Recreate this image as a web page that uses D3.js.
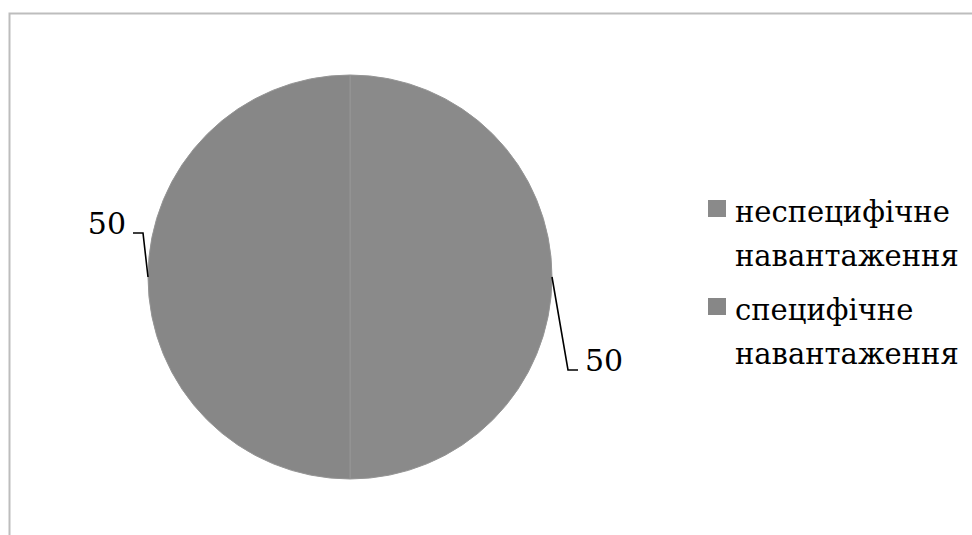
<!DOCTYPE html>
<html>
<head>
<meta charset="utf-8">
<script src="https://cdn.jsdelivr.net/npm/d3@7"></script>
<style>
  body { margin: 0; background: #fff; }
</style>
</head>
<body>
<div id="chart"></div>
<script>
// pie data
var categories = ["неспецифічне навантаження", "специфічне навантаження"];
var values = [50, 50];
var legendLines = [["неспецифічне", "навантаження"], ["специфічне", "навантаження"]];
var sliceColors = ["#8a8a8a", "#878787"];

var width = 972, height = 535;
var cx = 350, cy = 277, radius = 202;
var fontFamily = "'DejaVu Serif', serif";

var svg = d3.select("#chart")
    .append("svg")
    .attr("width", width)
    .attr("height", height);

//Chart area border (only top and left visible)
svg.append("path")
    .attr("d", "M9.5," + height + "V13.5H" + width)
    .attr("fill", "none")
    .attr("stroke", "#bdbdbd")
    .attr("stroke-width", 2);

var pie = d3.pie().sort(null).value(function(d){ return d; });
var arc = d3.arc().innerRadius(0).outerRadius(radius);
var arcs = pie(values);

var g = svg.append("g").attr("transform", "translate(" + cx + "," + cy + ")");

g.selectAll("path.slice")
    .data(arcs)
    .enter()
    .append("path")
    .attr("class", "slice")
    .attr("d", arc)
    .attr("fill", function(d, i){ return sliceColors[i]; })
    .attr("stroke", "#959595")
    .attr("stroke-width", 1);

//Data labels with leader lines
var labelOffsets = [{dx: 16, dy: 93, side: 1}, {dx: -5, dy: -44, side: -1}];

arcs.forEach(function(d, i){
    var mid = (d.startAngle + d.endAngle) / 2;
    var px = Math.sin(mid) * radius;
    var py = -Math.cos(mid) * radius;
    var off = labelOffsets[i];
    var ex = px + off.dx, ey = py + off.dy;
    var hx = ex + off.side * 10;
    g.append("path")
        .attr("d", "M" + px + "," + py + "L" + ex + "," + ey + "L" + hx + "," + ey)
        .attr("fill", "none")
        .attr("stroke", "#000")
        .attr("stroke-width", 1.6);
    g.append("text")
        .attr("x", hx + off.side * 7)
        .attr("y", ey + 1)
        .attr("text-anchor", off.side > 0 ? "start" : "end")
        .attr("font-family", fontFamily)
        .style("font-size", "30px")
        .text(d.data);
});

//Legend
var legend = svg.append("g").attr("transform", "translate(708,200)");
var entryGap = 98, lineGap = 43.5;

var items = legend.selectAll("g.item")
    .data(categories)
    .enter()
    .append("g")
    .attr("class", "item")
    .attr("transform", function(d, i){ return "translate(0," + (i * entryGap) + ")"; });

items.append("rect")
    .attr("width", 18)
    .attr("height", 17)
    .attr("fill", function(d, i){ return sliceColors[i]; });

items.append("text")
    .attr("x", 27)
    .attr("y", 22)
    .attr("font-family", fontFamily)
    .style("font-size", "29px")
    .selectAll("tspan")
    .data(function(d, i){ return legendLines[i]; })
    .enter()
    .append("tspan")
    .attr("x", 27)
    .attr("dy", function(d, j){ return j === 0 ? 0 : lineGap; })
    .text(function(d){ return d; });
</script>
</body>
</html>
